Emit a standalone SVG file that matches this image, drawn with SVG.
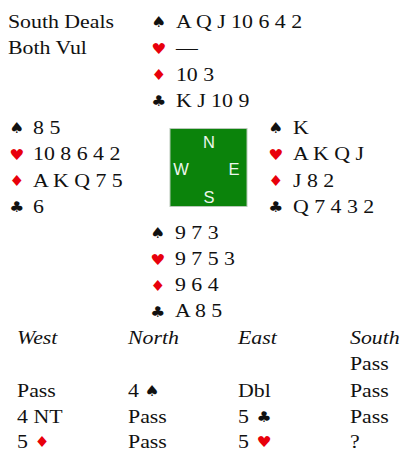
<svg xmlns="http://www.w3.org/2000/svg" width="408" height="465" viewBox="0 0 408 465">
<style>
.t{font-family:"Liberation Serif","Times New Roman",serif;font-size:19.5px;fill:#111}
.h{font-family:"Liberation Serif","Times New Roman",serif;font-size:19.5px;font-style:italic;fill:#111}
.s{font-family:"DejaVu Sans",sans-serif;font-size:15px}
.b{fill:#111}
.r{fill:#e8000b}
.c{font-family:"Liberation Sans",Arial,sans-serif;font-size:16.5px;fill:#eef6ee;text-anchor:middle}
</style>
<rect width="408" height="465" fill="#fff"/>
<g id="compass">
<rect x="170" y="128.5" width="77" height="78" fill="#0b830b" stroke="#b8c8b8" stroke-width="1"/>
<text class="c" x="209" y="148">N</text>
<text class="c" x="181" y="175">W</text>
<text class="c" x="234" y="175">E</text>
<text class="c" x="209" y="203">S</text>
</g>
<g transform="scale(1.12 1)">
<g id="info">
<text class="t" x="7.1" y="28">South Deals</text>
<text class="t" x="7.1" y="54">Both Vul</text>
</g>
<g id="north">
<text class="s b" x="135" y="27.5">♠</text><text class="t" x="157.1" y="28">A Q J 10 6 4 2</text>
<text class="s r" x="135" y="54">♥</text><text class="t" x="157.1" y="54">—</text>
<text class="s r" x="135" y="80.5">♦</text><text class="t" x="157.1" y="81">10 3</text>
<text class="s b" x="135" y="106.5">♣</text><text class="t" x="157.1" y="107">K J 10 9</text>
</g>
<g id="west">
<text class="s b" x="8.2" y="133.5">♠</text><text class="t" x="29.5" y="134">8 5</text>
<text class="s r" x="8.2" y="160">♥</text><text class="t" x="29.5" y="160.5">10 8 6 4 2</text>
<text class="s r" x="8.2" y="186.5">♦</text><text class="t" x="29.5" y="187">A K Q 7 5</text>
<text class="s b" x="8.2" y="212.5">♣</text><text class="t" x="29.5" y="213">6</text>
</g>
<g id="east">
<text class="s b" x="239.5" y="133.5">♠</text><text class="t" x="261.6" y="134">K</text>
<text class="s r" x="239.5" y="160">♥</text><text class="t" x="261.6" y="160.5">A K Q J</text>
<text class="s r" x="239.5" y="186.5">♦</text><text class="t" x="261.6" y="187">J 8 2</text>
<text class="s b" x="239.5" y="212.5">♣</text><text class="t" x="261.6" y="213">Q 7 4 3 2</text>
</g>
<g id="south">
<text class="s b" x="134.1" y="238.5">♠</text><text class="t" x="156.25" y="239">9 7 3</text>
<text class="s r" x="134.1" y="265">♥</text><text class="t" x="156.25" y="265.5">9 7 5 3</text>
<text class="s r" x="134.1" y="291">♦</text><text class="t" x="156.25" y="291.5">9 6 4</text>
<text class="s b" x="134.1" y="317">♣</text><text class="t" x="156.25" y="317.5">A 8 5</text>
</g>
<g id="auction">
<text class="h" x="15.2" y="344">West</text>
<text class="h" x="114.3" y="344">North</text>
<text class="h" x="212.5" y="344">East</text>
<text class="h" x="312.5" y="344">South</text>
<text class="t" x="312.5" y="370">Pass</text>
<text class="t" x="15.2" y="397">Pass</text>
<text class="t" x="114.3" y="397">4</text><text class="s b" x="129" y="396.5">♠</text>
<text class="t" x="212.5" y="397">Dbl</text>
<text class="t" x="312.5" y="397">Pass</text>
<text class="t" x="15.2" y="423">4 NT</text>
<text class="t" x="114.3" y="423">Pass</text>
<text class="t" x="212.5" y="423">5</text><text class="s b" x="229" y="422.5">♣</text>
<text class="t" x="312.5" y="423">Pass</text>
<text class="t" x="15.2" y="448">5</text><text class="s r" x="30.8" y="447.5">♦</text>
<text class="t" x="114.3" y="448">Pass</text>
<text class="t" x="212.5" y="448">5</text><text class="s r" x="229" y="447.5">♥</text>
<text class="t" x="312.5" y="448">?</text>
</g>
</g>
</svg>
